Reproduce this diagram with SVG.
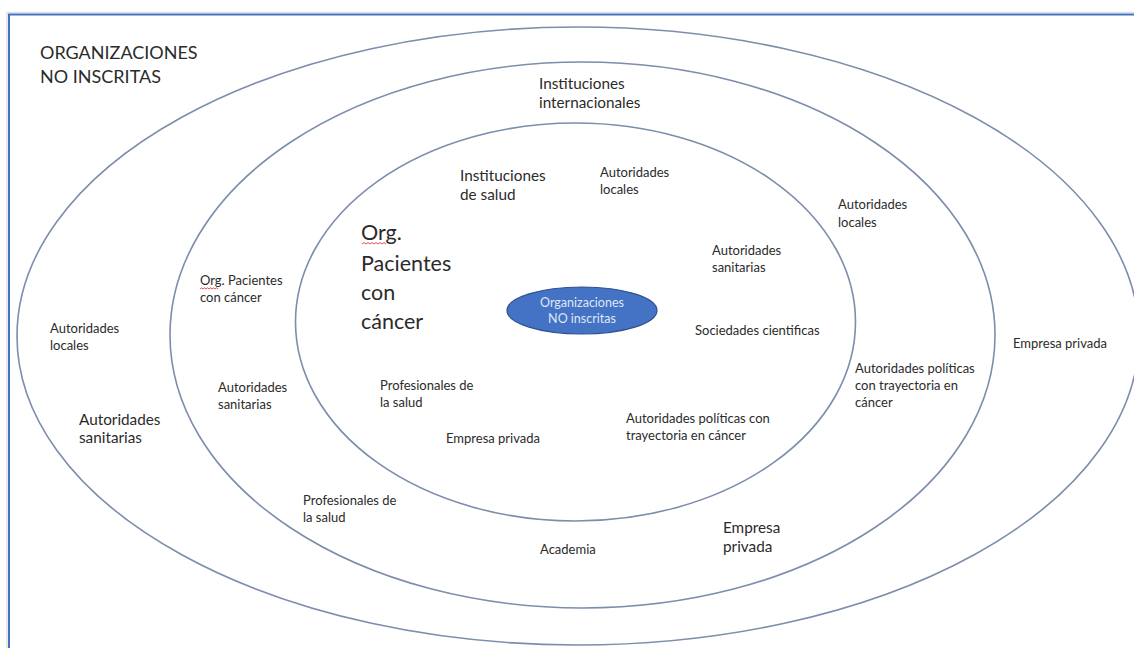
<svg xmlns="http://www.w3.org/2000/svg" width="1134" height="648" viewBox="0 0 1134 648">
  <style>
    .ring { fill: none; stroke: #7d8dab; stroke-width: 1.6; }
    .lbl { font-family: Lato, "Open Sans", sans-serif; fill: #2b2b2b; }
    .s { font-size: 13px; }
    .m { font-size: 15.3px; }
    .l { font-size: 21.5px; }
    .h { font-size: 18px; }
    .core { font-family: Lato, "Open Sans", sans-serif; font-size: 12.5px; fill: #dfe8f7; text-anchor: middle; }
    .squig { fill: none; stroke: #e03a3a; stroke-width: 0.9; }
  </style>
  <rect width="1134" height="648" fill="#ffffff"/>

  <!-- page frame -->
  <g id="frame">
    <rect x="7" y="12.5" width="1140" height="650" fill="none" stroke="#e2e2e2" stroke-width="1.5"/>
    <rect x="9" y="14.5" width="1140" height="650" fill="none" stroke="#4472c4" stroke-width="2"/>
  </g>

  <!-- concentric rings -->
  <g id="connectors">
    <ellipse id="ring-outer" class="ring" cx="578" cy="336" rx="561" ry="309"/>
    <ellipse id="ring-middle" class="ring" cx="582.5" cy="335" rx="412.5" ry="273"/>
    <ellipse id="ring-inner" class="ring" cx="575.5" cy="322" rx="280" ry="199"/>
  </g>

  <!-- core -->
  <g id="core">
    <ellipse cx="582" cy="310.5" rx="75" ry="23.5" fill="#4472c4" stroke="#2f528f" stroke-width="1.2"/>
    <text class="core" x="582" y="307">Organizaciones</text>
    <text class="core" x="582" y="323">NO inscritas</text>
  </g>

  <g id="title">
    <text class="lbl h" x="40" y="59">ORGANIZACIONES</text>
    <text class="lbl h" x="40" y="83">NO INSCRITAS</text>
  </g>

  <!-- inner ring labels -->
  <g id="inner-org-pacientes">
    <text class="lbl l" x="361" y="240">Org.</text>
    <text class="lbl l" x="361" y="271">Pacientes</text>
    <text class="lbl l" x="361" y="300">con</text>
    <text class="lbl l" x="361" y="329">cáncer</text>
    <path class="squig" d="M362 244 l2 -1.5 l2 1.5 l2 -1.5 l2 1.5 l2 -1.5 l2 1.5 l2 -1.5 l2 1.5 l2 -1.5 l2 1.5 l2 -1.5 l2 1.5"/>
  </g>
  <g id="inner-instituciones-salud">
    <text class="lbl m" x="460" y="181">Instituciones</text>
    <text class="lbl m" x="460" y="200">de salud</text>
  </g>
  <g id="inner-autoridades-locales">
    <text class="lbl s" x="600" y="177">Autoridades</text>
    <text class="lbl s" x="600" y="194">locales</text>
  </g>
  <g id="inner-autoridades-sanitarias">
    <text class="lbl s" x="712" y="255">Autoridades</text>
    <text class="lbl s" x="712" y="272">sanitarias</text>
  </g>
  <g id="inner-sociedades">
    <text class="lbl s" x="695" y="335">Sociedades cientificas</text>
  </g>
  <g id="inner-profesionales">
    <text class="lbl s" x="380" y="390">Profesionales de</text>
    <text class="lbl s" x="380" y="407">la salud</text>
  </g>
  <g id="inner-empresa">
    <text class="lbl s" x="446" y="443">Empresa privada</text>
  </g>
  <g id="inner-autoridades-politicas">
    <text class="lbl s" x="626" y="423">Autoridades políticas con</text>
    <text class="lbl s" x="626" y="440">trayectoria en cáncer</text>
  </g>

  <!-- middle ring labels -->
  <g id="mid-instituciones-int">
    <text class="lbl m" x="539" y="89">Instituciones</text>
    <text class="lbl m" x="539" y="108">internacionales</text>
  </g>
  <g id="mid-autoridades-locales">
    <text class="lbl s" x="838" y="209">Autoridades</text>
    <text class="lbl s" x="838" y="227">locales</text>
  </g>
  <g id="mid-org-pacientes">
    <text class="lbl s" x="200" y="285">Org. Pacientes</text>
    <text class="lbl s" x="200" y="302">con cáncer</text>
    <path class="squig" d="M200 289 l1.5 -1.2 l1.5 1.2 l1.5 -1.2 l1.5 1.2 l1.5 -1.2 l1.5 1.2 l1.5 -1.2 l1.5 1.2 l1.5 -1.2 l1.5 1.2 l1.5 -1.2 l1.5 1.2"/>
  </g>
  <g id="mid-autoridades-sanitarias">
    <text class="lbl s" x="218" y="392">Autoridades</text>
    <text class="lbl s" x="218" y="409">sanitarias</text>
  </g>
  <g id="mid-autoridades-politicas">
    <text class="lbl s" x="855" y="373">Autoridades políticas</text>
    <text class="lbl s" x="855" y="390">con trayectoria en</text>
    <text class="lbl s" x="855" y="407">cáncer</text>
  </g>
  <g id="mid-profesionales">
    <text class="lbl s" x="303" y="505">Profesionales de</text>
    <text class="lbl s" x="303" y="522">la salud</text>
  </g>
  <g id="mid-academia">
    <text class="lbl s" x="540" y="554">Academia</text>
  </g>
  <g id="mid-empresa">
    <text class="lbl m" x="723" y="533">Empresa</text>
    <text class="lbl m" x="723" y="552">privada</text>
  </g>

  <!-- outer ring labels -->
  <g id="out-autoridades-locales">
    <text class="lbl s" x="50" y="333">Autoridades</text>
    <text class="lbl s" x="50" y="350">locales</text>
  </g>
  <g id="out-autoridades-sanitarias">
    <text class="lbl m" x="79" y="425">Autoridades</text>
    <text class="lbl m" x="79" y="443">sanitarias</text>
  </g>
  <g id="out-empresa">
    <text class="lbl s" x="1013" y="348">Empresa privada</text>
  </g>
</svg>
